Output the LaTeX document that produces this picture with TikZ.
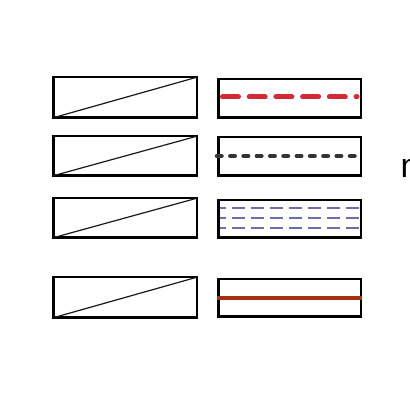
\documentclass[tikz,border=0pt]{standalone}
\usepackage{fontspec}
\setmainfont{Liberation Sans}
\usetikzlibrary{calc}
\definecolor{redd}{HTML}{D42A36}
\definecolor{darkd}{HTML}{333333}
\definecolor{blued}{HTML}{6E6EAE}
\definecolor{brownd}{HTML}{A3330F}
\tikzset{
  box/.style={draw=black, line width=2.5pt, minimum width=143.5pt, minimum height=40pt, inner sep=0pt, outer sep=0pt},
  diag/.style={draw=black!90, line width=1.2pt},
  reddash/.style={draw=redd, line width=5pt, line cap=round, dash pattern=on 16pt off 10.7pt},
  darkdot/.style={draw=darkd, line width=4.5pt, line cap=round, dash pattern=on 4.5pt off 8.8pt},
  bluedash/.style={draw=blued, line width=1.5pt, dash pattern=on 13pt off 6pt, dash phase=6pt},
  brownline/.style={draw=brownd, line width=4pt}
}
\begin{document}
\begin{tikzpicture}[x=1pt,y=-1pt]
\useasboundingbox (0,0) rectangle (410,395);
% left boxes
\node[box, minimum height=40.5pt] (l1) at (125,97.5) {};
\node[box, minimum height=39.5pt] (l2) at (125,156) {};
\node[box, minimum height=39.5pt] (l3) at (125,218) {};
\node[box, minimum height=40.5pt] (l4) at (125,297.5) {};
\foreach \n in {l1,l2,l3,l4} \draw[diag] (\n.south west) -- (\n.north east);
% right boxes
\node[box, minimum width=142.5pt, minimum height=38.5pt] (r1) at (289.5,98.5) {};
\node[box, minimum width=142.5pt, minimum height=38.5pt] (r2) at (289.5,156.5) {};
\node[box, minimum width=142.5pt, minimum height=37.5pt] (r3) at (289.5,219) {};
\node[box, minimum width=142.5pt, minimum height=37.5pt] (r4) at (289.5,298) {};
% red dashed
\coordinate (ra) at (222.5,97);
\coordinate (rb) at (357,97);
\draw[reddash] (ra) -- (rb);
% dark dotted
\coordinate (da) at (217,156);
\coordinate (db) at (355,156);
\draw[darkdot] (da) -- (db);
% blue dashed
\foreach \yy in {208,218,228,237} {
  \coordinate (ba) at (219,\yy);
  \coordinate (bb) at (360,\yy);
  \draw[bluedash] (ba) -- (bb);
}
\draw[box, fill=none] (r3.south west) rectangle (r3.north east);
% brown line
\coordinate (oa) at (217,298);
\coordinate (ob) at (362,298);
\draw[brownline] (oa) -- (ob);
% clipped text
\node[anchor=base west, inner sep=0pt, font=\fontsize{34pt}{34pt}\selectfont] (txt) at (400.4,178) {n};
\end{tikzpicture}
\end{document}
